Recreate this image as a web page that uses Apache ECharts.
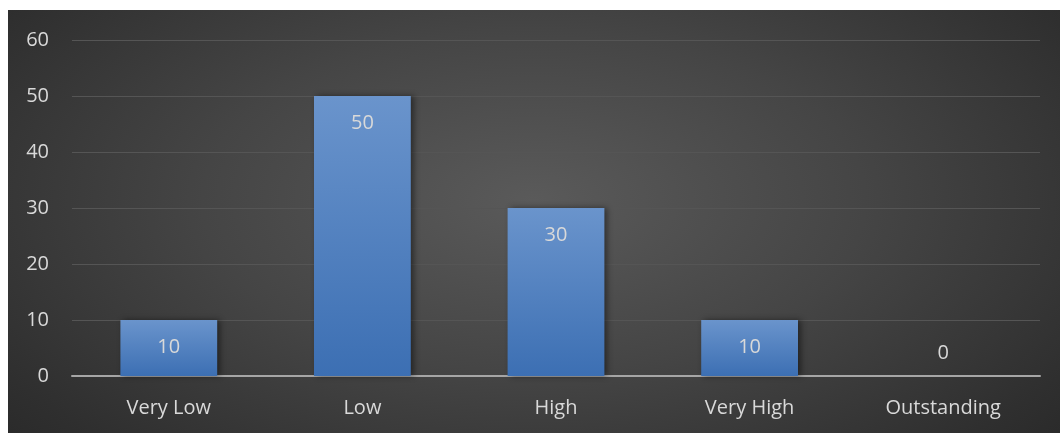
<!DOCTYPE html>
<html>
<head>
<meta charset="utf-8">
<script src="https://cdn.jsdelivr.net/npm/echarts@6/dist/echarts.min.js"></script>
<style>
  html, body { margin: 0; padding: 0; background: #ffffff; }
  #chart {
    position: absolute; left: 8px; top: 10px; width: 1052px; height: 423px;
    background: radial-gradient(ellipse 70% 90% at 50% 45%, #5a5a5a 0%, #454545 45%, #2f2f2f 85%, #282828 100%);
  }
</style>
</head>
<body>
<div id="chart"></div>
<script>
const categories = ['Very Low', 'Low', 'High', 'Very High', 'Outstanding'];
const counts = [10, 50, 30, 10, 0];
const yTicks = { min: 0, max: 60, interval: 10 };

const chart = echarts.init(document.getElementById('chart'), null, { renderer: 'canvas' });
const textColor = '#d9d9d9';
const fontFamily = '"Open Sans", "Noto Sans", sans-serif';

chart.setOption({
  backgroundColor: 'transparent',
  animation: false,
  grid: { left: 64, right: 20, top: 30, bottom: 57 },
  xAxis: {
    type: 'category',
    data: categories,
    axisTick: { show: false },
    axisLine: { lineStyle: { color: '#a6a6a6', width: 2 } },
    axisLabel: { color: textColor, fontSize: 20, fontFamily: fontFamily, margin: 22 }
  },
  yAxis: {
    type: 'value',
    min: yTicks.min, max: yTicks.max, interval: yTicks.interval,
    axisLine: { show: false },
    axisTick: { show: false },
    splitLine: { lineStyle: { color: '#555555', width: 1 } },
    axisLabel: { color: textColor, fontSize: 20, fontFamily: fontFamily, margin: 23 }
  },
  series: [{
    type: 'bar',
    barWidth: '50%',
    data: counts.map(v => ({
      value: v,
      label: v === 0
        ? { show: true, position: 'top', distance: 13 }
        : { show: true, position: 'insideTop', distance: 17 }
    })),
    label: { color: textColor, fontSize: 20, fontFamily: fontFamily },
    itemStyle: {
      color: new echarts.graphic.LinearGradient(0, 0, 0, 1, [
        { offset: 0, color: '#6a94cc' },
        { offset: 1, color: '#3c6fb3' }
      ]),
      shadowColor: 'rgba(0,0,0,0.45)',
      shadowBlur: 6,
      shadowOffsetX: 3,
      shadowOffsetY: 0
    }
  }]
});
</script>
</body>
</html>
